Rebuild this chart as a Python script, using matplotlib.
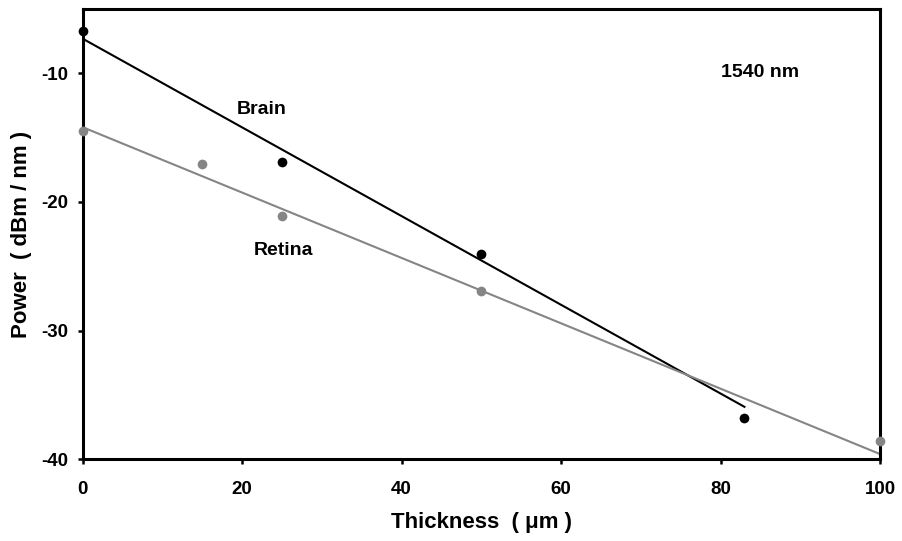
import matplotlib
matplotlib.use("Agg")
import matplotlib.pyplot as plt

plt.rcParams['font.family'] = ['Liberation Sans', 'DejaVu Sans']
plt.rcParams['font.weight'] = 'bold'
plt.rcParams['axes.unicode_minus'] = False

# measured points
brain_x = [0, 25, 50, 83]
brain_y = [-6.74, -16.93, -24.01, -36.79]
retina_x = [0, 15, 25, 50, 100]
retina_y = [-14.52, -17.03, -21.12, -26.89, -38.58]

# straight fit lines as drawn in the figure
brain_fit_x = [0, 83]
brain_fit_y = [-7.31, -35.92]
retina_fit_x = [0, 100]
retina_fit_y = [-14.19, -39.59]

x_ticks = [0, 20, 40, 60, 80, 100]
y_ticks = [-10, -20, -30, -40]

black = '#000000'
gray = '#858585'

fig = plt.figure(figsize=(9.03, 5.41), dpi=100)
ax = fig.add_axes([0.0916, 0.151, 0.8829, 0.8324])

ax.plot(brain_fit_x, brain_fit_y, color=black, lw=1.5, zorder=2)
ax.plot(retina_fit_x, retina_fit_y, color=gray, lw=1.5, zorder=2)
ax.plot(brain_x, brain_y, 'o', color=black, ms=7, mec='none', zorder=3, clip_on=False)
ax.plot(retina_x, retina_y, 'o', color=gray, ms=7, mec='none', zorder=3, clip_on=False)

ax.text(22.4, -12.82, 'Brain', ha='center', va='center', fontsize=14, fontweight='bold')
ax.text(25.2, -23.76, 'Retina', ha='center', va='center', fontsize=14, fontweight='bold')
ax.text(85.0, -9.9, '1540 nm', ha='center', va='center', fontsize=14, fontweight='bold')

ax.set_xlim(0, 100)
ax.set_ylim(-40, -5)
ax.set_xticks(x_ticks)
ax.set_yticks(y_ticks)
ax.tick_params(direction='out', length=3.6, width=1.8, labelsize=13.5,
               top=False, right=False)
ax.tick_params(axis='x', pad=12)
ax.tick_params(axis='y', pad=6.5)
for lab in ax.get_xticklabels() + ax.get_yticklabels():
    lab.set_fontweight('bold')
for sp in ax.spines.values():
    sp.set_linewidth(2.2)

ax.set_xlabel('Thickness  ( \u03bcm )', fontsize=16, fontweight='bold', labelpad=10)
ax.set_ylabel('Power  ( dBm / nm )', fontsize=16, fontweight='bold', labelpad=7)

fig.savefig('out.png', dpi=100)
